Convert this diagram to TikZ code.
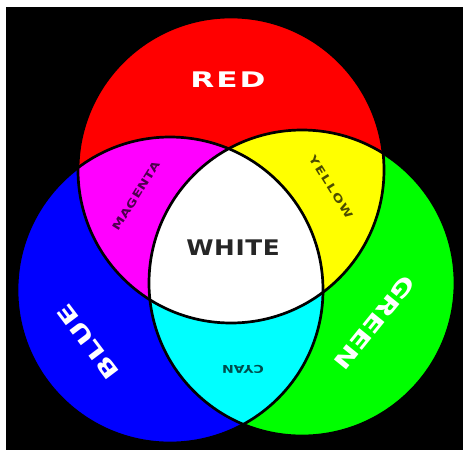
\documentclass[tikz,border=0pt]{standalone}
\usepackage{fontspec}
\newfontfamily\lblR{DejaVu Sans}[FakeStretch=1.45,LetterSpace=9]
\newfontfamily\lblB{DejaVu Sans}[FakeStretch=1.4,LetterSpace=2]
\newfontfamily\lblG{DejaVu Sans}[FakeStretch=1.4,LetterSpace=0]
\newfontfamily\lblW{DejaVu Sans}[FakeStretch=1.15,LetterSpace=3]
\newfontfamily\lblM{DejaVu Sans}[FakeStretch=1.3,LetterSpace=4]
\newfontfamily\lblY{DejaVu Sans}[FakeStretch=1.3,LetterSpace=15]
\newfontfamily\lblC{DejaVu Sans}[FakeStretch=1.3,LetterSpace=0]
\definecolor{darktxt}{RGB}{38,38,38}
\definecolor{pred}{RGB}{255,0,0}
\definecolor{pgreen}{RGB}{0,255,0}
\definecolor{pblue}{RGB}{0,0,255}
\definecolor{pmag}{RGB}{255,0,255}
\definecolor{pyel}{RGB}{255,255,0}
\definecolor{pcyan}{RGB}{0,255,255}
\tikzset{
  ring/.style={draw=black,line width=2.7pt},
  biglbl/.style={inner sep=0pt,text=white},
  smalllbl/.style={inner sep=0pt,text=black,text opacity=0.7}
}
\newcommand{\bigsz}{\fontsize{21.5}{21.5}\selectfont\bfseries}
\newcommand{\smallsz}{\fontsize{10.8}{10.8}\selectfont\bfseries}
\begin{document}
\begin{tikzpicture}[x=1pt,y=-1pt]
\useasboundingbox (0,0) rectangle (463,450);
\fill[white] (0,0) rectangle (463,450);
\fill[black] (6,7) rectangle (463,450);
\coordinate (cr) at (231,170);
\coordinate (cb) at (170,290);
\coordinate (cg) at (302,283);
\fill[pred] (cr) circle[radius=153];
\fill[pblue] (cb) circle[radius=153];
\fill[pgreen] (cg) circle[radius=153];
\begin{scope}
  \clip (cr) circle[radius=153];
  \fill[pmag] (cb) circle[radius=153];
  \fill[pyel] (cg) circle[radius=153];
\end{scope}
\begin{scope}
  \clip (cb) circle[radius=153];
  \fill[pcyan] (cg) circle[radius=153];
  \clip (cr) circle[radius=153];
  \fill[white] (cg) circle[radius=153];
\end{scope}
\draw[ring] (cr) circle[radius=153];
\draw[ring] (cb) circle[radius=153];
\draw[ring] (cg) circle[radius=153];
\node[biglbl,font=\lblR\bigsz] (tred) at (228,80) {RED};
\node[biglbl,text=darktxt,font=\lblW\bigsz] (twhite) at (233,248) {WHITE};
\node[biglbl,font=\lblB\bigsz,rotate=127] (tblue) at (88,342) {BLUE};
\node[biglbl,font=\lblG\bigsz,rotate=-129] (tgreen) at (375,323) {GREEN};
\node[smalllbl,font=\lblM\smallsz,rotate=58] (tmag) at (136,196) {MAGENTA};
\node[smalllbl,font=\lblY\smallsz,rotate=-58] (tyel) at (331,187) {YELLOW};
\node[smalllbl,font=\lblC\smallsz,rotate=180] (tcyan) at (243,369) {CYAN};
\end{tikzpicture}
\end{document}
